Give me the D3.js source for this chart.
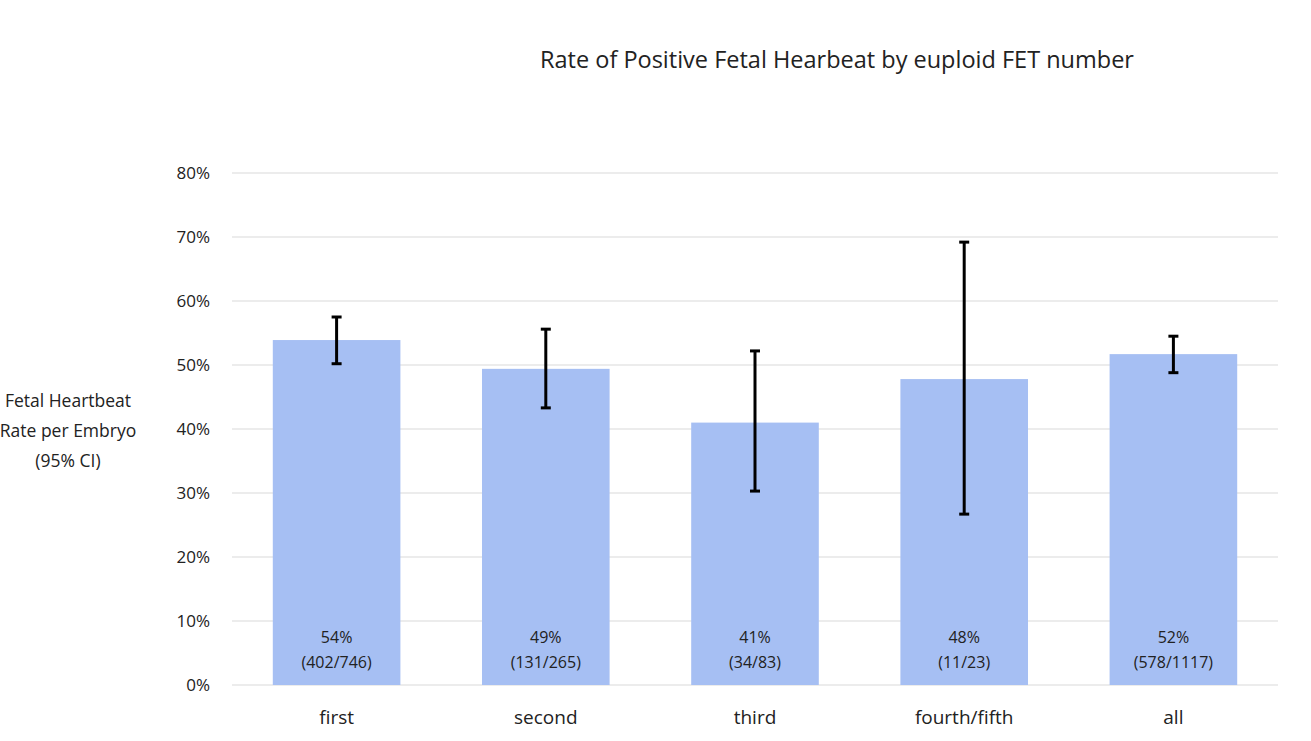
<!DOCTYPE html>
<html><head><meta charset="utf-8">
<script src="https://cdn.jsdelivr.net/npm/d3@7"></script>
<style>body{margin:0;background:#fff;font-family:"Open Sans","Noto Sans",sans-serif;}</style>
</head><body><svg id="c" width="1311" height="741"></svg>
<script>
const categories=["first","second","third","fourth/fifth","all"];
const rates=[0.539,0.494,0.410,0.478,0.517];
const ciLow=[0.502,0.433,0.303,0.267,0.488];
const ciHigh=[0.575,0.556,0.522,0.692,0.545];
const counts=["(402/746)","(131/265)","(34/83)","(11/23)","(578/1117)"];
const pctLabels=["54%","49%","41%","48%","52%"];
const yTicks=[0,0.1,0.2,0.3,0.4,0.5,0.6,0.7,0.8];

const svg=d3.select("#c");
const x=d3.scaleBand().domain(categories).range([232,1278]).paddingInner(0.39).paddingOuter(0.195);
const y=d3.scaleLinear().domain([0,0.8]).range([685,173]);

svg.append("g").selectAll("line").data(yTicks).join("line")
 .attr("x1",232).attr("x2",1278).attr("y1",d=>y(d)).attr("y2",d=>y(d))
 .attr("stroke","#d9d9d9").attr("stroke-width",1);
svg.append("g").selectAll("text").data(yTicks).join("text")
 .attr("x",210).attr("y",d=>y(d)+6).attr("text-anchor","end")
 .attr("font-size",17).attr("fill","#222").text(d=>d3.format(".0%")(d));

svg.append("g").selectAll("rect").data(categories).join("rect")
 .attr("x",d=>x(d)).attr("width",x.bandwidth())
 .attr("y",(d,i)=>y(rates[i])).attr("height",(d,i)=>y(0)-y(rates[i]))
 .attr("fill","#a6bff3");

const eb=svg.append("g").attr("stroke","#000").attr("stroke-width",3);
categories.forEach((c,i)=>{
 const cx=x(c)+x.bandwidth()/2;
 eb.append("line").attr("x1",cx).attr("x2",cx).attr("y1",y(ciLow[i])).attr("y2",y(ciHigh[i]));
 [ciLow[i],ciHigh[i]].forEach(v=>eb.append("line").attr("x1",cx-5).attr("x2",cx+5).attr("y1",y(v)).attr("y2",y(v)));
 svg.append("text").attr("x",cx).attr("y",643).attr("text-anchor","middle").attr("font-size",16).attr("fill","#222").text(pctLabels[i]);
 svg.append("text").attr("x",cx).attr("y",668).attr("text-anchor","middle").attr("font-size",16).attr("fill","#222").text(counts[i]);
 svg.append("text").attr("x",cx).attr("y",724).attr("text-anchor","middle").attr("font-size",19).attr("fill","#222").text(c);
});

svg.append("text").attr("x",837).attr("y",68).attr("text-anchor","middle").attr("font-size",23.5).attr("fill","#222")
 .text("Rate of Positive Fetal Hearbeat by euploid FET number");
["Fetal Heartbeat","Rate per Embryo","(95% CI)"].forEach((t,i)=>
 svg.append("text").attr("x",68).attr("y",407+i*30).attr("text-anchor","middle").attr("font-size",17.5).attr("fill","#222").text(t));
</script></body></html>
